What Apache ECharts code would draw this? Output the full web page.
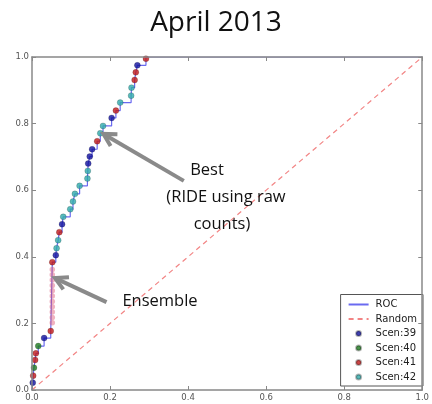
<!DOCTYPE html>
<html><head><meta charset="utf-8">
<script src="https://cdn.jsdelivr.net/npm/echarts@6/dist/echarts.min.js"></script>
<style>html,body{margin:0;padding:0;background:#fff}#c{width:432px;height:404px}</style>
</head><body><div id="c"></div>
<script>
const tickLabels = ['0.0','0.2','0.4','0.6','0.8','1.0'];
// ROC curve vertices (fpr, tpr)
const rocFpr = [0,0.002,0.003,0.005,0.008,0.010,0.016,0.031,0.048,0.052,0.061,0.063,0.067,0.070,0.077,0.080,0.098,0.105,0.110,0.122,0.142,0.143,0.144,0.148,0.154,0.167,0.175,0.182,0.204,0.215,0.226,0.254,0.255,0.263,0.266,0.270,0.292,1.0];
const rocTpr = [0,0.022,0.043,0.067,0.090,0.110,0.132,0.156,0.177,0.384,0.405,0.426,0.450,0.474,0.498,0.520,0.543,0.566,0.589,0.613,0.635,0.658,0.680,0.701,0.723,0.747,0.771,0.793,0.817,0.839,0.863,0.884,0.908,0.931,0.954,0.975,1.0,1.0];
const randomX = [0,1];
const randomY = [0,1];
const scen39X = [0.002,0.031,0.061,0.077,0.144,0.148,0.154,0.204,0.270];
const scen39Y = [0.022,0.156,0.405,0.498,0.680,0.701,0.723,0.817,0.975];
const scen40X = [0.005,0.016];
const scen40Y = [0.067,0.132];
const scen41X = [0.003,0.008,0.010,0.048,0.052,0.070,0.167,0.215,0.263,0.266,0.292];
const scen41Y = [0.043,0.090,0.110,0.177,0.384,0.474,0.747,0.839,0.931,0.954,0.995];
const scen42X = [0.063,0.067,0.080,0.098,0.105,0.110,0.122,0.142,0.143,0.175,0.182,0.226,0.254,0.255];
const scen42Y = [0.426,0.450,0.520,0.543,0.566,0.589,0.613,0.635,0.658,0.771,0.793,0.863,0.884,0.908];
// ensemble (faint) points along the vertical step
const ensX = [0.052,0.052,0.052,0.052,0.052,0.052,0.052,0.052,0.052,0.052,0.052];
const ensY = [0.202,0.218,0.234,0.250,0.266,0.282,0.298,0.314,0.330,0.346,0.362];

const zip = (a,b) => a.map((v,i)=>[v,b[i]]);
const FONT = 'Open Sans';
const TICKFONT = 'DejaVu Sans';
const C39='#10109e', C40='#1d7a1d', C41='#c01818', C42='#2eaaaa';

const chart = echarts.init(document.getElementById('c'), null, {renderer:'canvas'});
const axisCommon = {
  type:'value', min:0, max:1, interval:0.2, z:10,
  axisLine:{show:true, onZero:false, lineStyle:{color:'#888', width:1.5}},
  axisTick:{show:true, inside:true, length:4, lineStyle:{color:'#888', width:1}},
  splitLine:{show:false}
};
const scat = (name, xs, ys, col) => ({
  name, type:'scatter', data: zip(xs,ys), symbol:'circle', symbolSize:6, z:5,
  itemStyle:{color:col, borderColor:'rgba(0,0,0,0.35)', borderWidth:0.6}
});
const option = {
  animation:false,
  backgroundColor:'#fff',
  title:{text:'April 2013', left:'center', top:4,
    textStyle:{fontFamily:FONT, fontSize:28, fontWeight:'normal', color:'#111'}},
  grid:{left:32, right:7, top:57, bottom:14},
  xAxis:[
    Object.assign({}, axisCommon, {position:'bottom',
      axisLabel:{fontFamily:TICKFONT, fontSize:8.5, color:'#555', margin:3,
        formatter:(v)=>tickLabels[Math.round(v*5)]}}),
    Object.assign({}, axisCommon, {position:'top', axisLabel:{show:false}})
  ],
  yAxis:[
    Object.assign({}, axisCommon, {position:'left',
      axisLabel:{fontFamily:TICKFONT, fontSize:8.5, color:'#555', margin:3,
        formatter:(v)=>tickLabels[Math.round(v*5)]}}),
    Object.assign({}, axisCommon, {position:'right', axisLabel:{show:false}})
  ],
  legend:{
    orient:'vertical', right:9, bottom:18,
    data:[
      {name:'ROC', itemStyle:{opacity:0}},{name:'Random', itemStyle:{opacity:0}},
      {name:'Scen:39', icon:'circle'},{name:'Scen:40', icon:'circle'},
      {name:'Scen:41', icon:'circle'},{name:'Scen:42', icon:'circle'}
    ],
    backgroundColor:'#fff',
    borderColor:'#555', borderWidth:1, borderRadius:0,
    padding:[5,6,4,7], itemGap:4.5, itemWidth:20, itemHeight:5,
    textStyle:{fontFamily:TICKFONT, fontSize:10, color:'#222', padding:[0,0,0,2]}
  },
  series:[
    {name:'Random', type:'line', data:zip(randomX,randomY), symbol:'none', z:1,
      lineStyle:{color:'rgba(240,110,110,0.85)', width:1.2, type:[5,4]}, itemStyle:{color:'rgba(240,110,110,0.85)'}},
    {name:'ROC', type:'line', data:zip(rocFpr,rocTpr), symbol:'none', step:'end', z:2,
      lineStyle:{color:'#6a6af0', width:1.2}, itemStyle:{color:'#6a6af0'}},
    {name:'ens', type:'scatter', data:zip(ensX,ensY), symbol:'circle', symbolSize:5.5, z:3,
      itemStyle:{color:'rgba(220,80,110,0.55)'}},
    scat('Scen:39', scen39X, scen39Y, C39),
    scat('Scen:40', scen40X, scen40Y, C40),
    scat('Scen:41', scen41X, scen41Y, C41),
    scat('Scen:42', scen42X, scen42Y, C42)
  ]
};
chart.setOption(option);

// annotation anchors in data space: arrow tail -> head
const notes = {
  best: {tail:[0.389,0.628], head:[0.183,0.769]},
  ens:  {tail:[0.191,0.264], head:[0.059,0.336]}
};
function arrow(tailD, headD){
  const t = chart.convertToPixel({gridIndex:0}, tailD);
  const h = chart.convertToPixel({gridIndex:0}, headD);
  const ang = Math.atan2(t[1]-h[1], t[0]-h[0]);
  const L = 14, a = 0.5;
  const p1 = [h[0]+L*Math.cos(ang+a), h[1]+L*Math.sin(ang+a)];
  const p2 = [h[0]+L*Math.cos(ang-a), h[1]+L*Math.sin(ang-a)];
  return [
    {type:'polyline', z:20, shape:{points:[t,h]}, style:{stroke:'#8a8a8a', lineWidth:4, lineCap:'butt'}},
    {type:'polyline', z:20, shape:{points:[p1,h,p2]}, style:{stroke:'#8a8a8a', fill:null, lineWidth:4, lineJoin:'miter', lineCap:'butt'}}
  ];
}
const txt = (s, x, y) => ({type:'text', z:20, x, y, style:{text:s, fontFamily:FONT, fontSize:16.5, fill:'#111', align:'center', verticalAlign:'middle'}});
chart.setOption({graphic:[].concat(
  arrow(notes.best.tail, notes.best.head),
  arrow(notes.ens.tail, notes.ens.head),
  [txt('Best', 207, 170), txt('(RIDE using raw', 226, 197), txt('counts)', 222, 224), txt('Ensemble', 160, 301)]
)});
</script>
</body></html>
